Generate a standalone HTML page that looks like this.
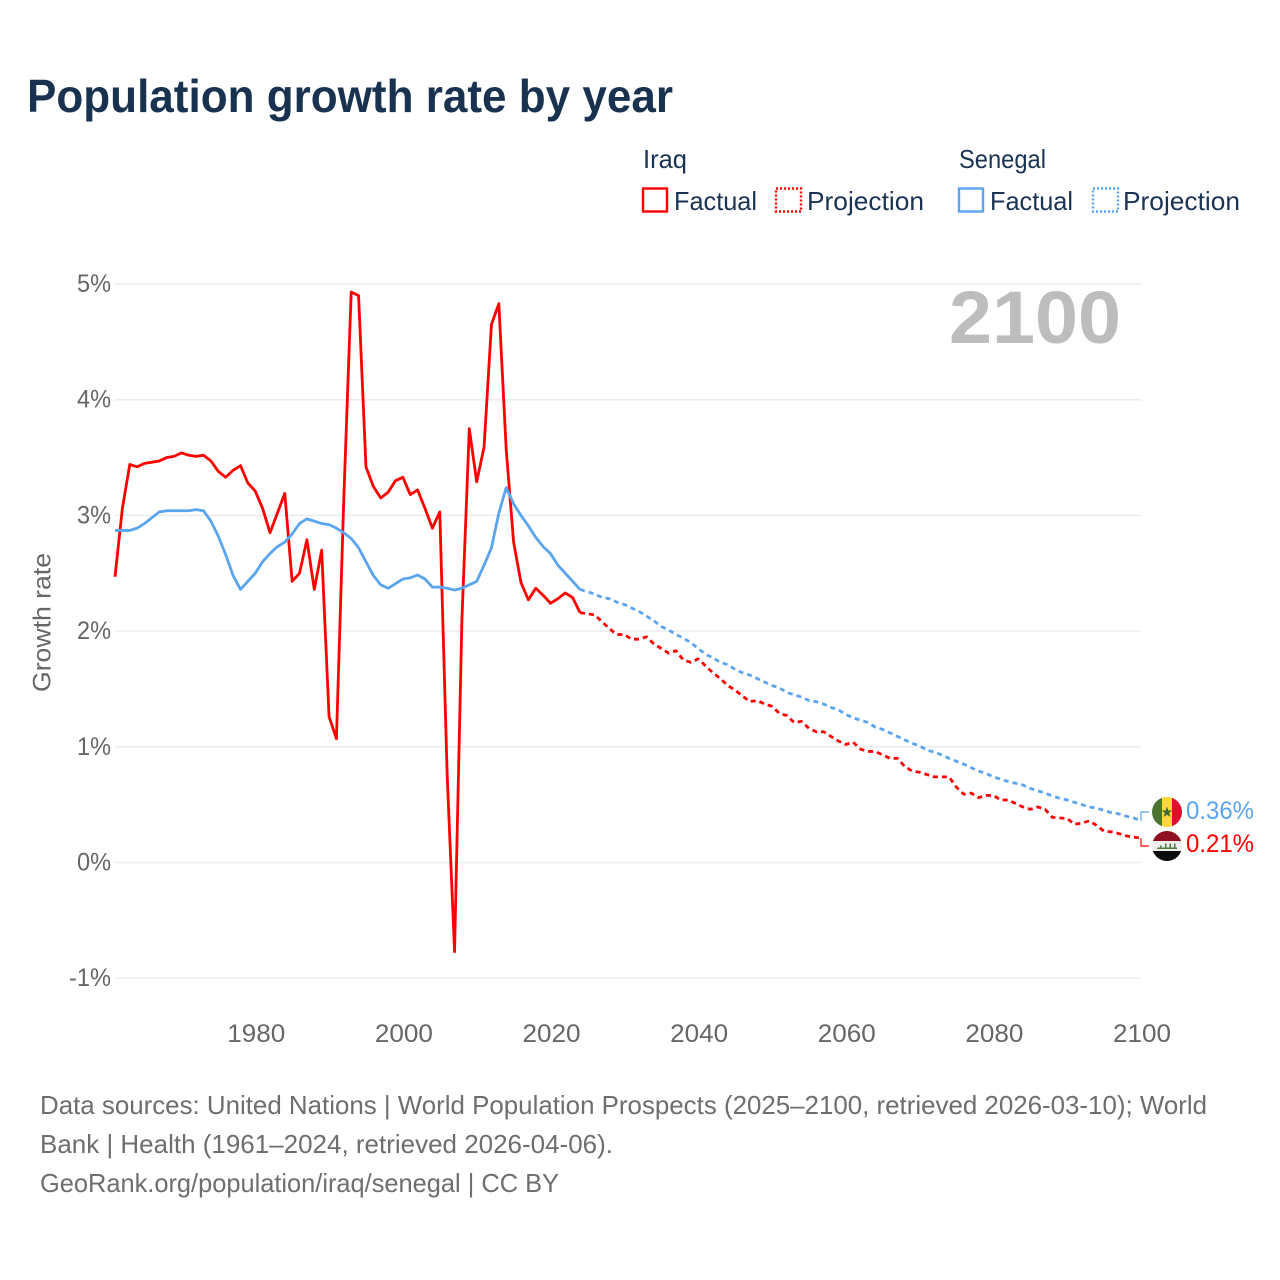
<!DOCTYPE html>
<html lang="en">
<head>
<meta charset="utf-8">
<title>Population growth rate by year</title>
<style>
html,body{margin:0;padding:0;background:#fff}
svg{display:block;font-family:"Liberation Sans",sans-serif}
</style>
</head>
<body>
<svg id="chart" xmlns="http://www.w3.org/2000/svg" width="1280" height="1280" viewBox="0 0 1280 1280">
  <text x="27" y="112" font-size="46" font-weight="700" fill="#18324f" textLength="646" lengthAdjust="spacingAndGlyphs">Population growth rate by year</text>

  <g font-size="26" fill="#1a3354">
    <text x="643" y="168" textLength="44" lengthAdjust="spacingAndGlyphs">Iraq</text>
    <text x="959" y="168" textLength="87" lengthAdjust="spacingAndGlyphs">Senegal</text>
    <g>
      <rect x="643" y="188.500" width="24" height="23" fill="none" stroke="#ff0000" stroke-width="2.400"/>
      <text x="674" y="210" textLength="83" lengthAdjust="spacingAndGlyphs">Factual</text>
    </g>
    <g>
      <rect x="776" y="188.500" width="25" height="23" fill="none" stroke="#ff0000" stroke-width="2.400" stroke-dasharray="2 2"/>
      <text x="807" y="210" textLength="117" lengthAdjust="spacingAndGlyphs">Projection</text>
    </g>
    <g>
      <rect x="959" y="188.500" width="24" height="23" fill="none" stroke="#5ba4ee" stroke-width="2.400"/>
      <text x="990" y="210" textLength="83" lengthAdjust="spacingAndGlyphs">Factual</text>
    </g>
    <g>
      <rect x="1093" y="188.500" width="25" height="23" fill="none" stroke="#5ba4ee" stroke-width="2.400" stroke-dasharray="2 2"/>
      <text x="1123" y="210" textLength="117" lengthAdjust="spacingAndGlyphs">Projection</text>
    </g>
  </g>

  <g id="grid"></g>
  <g id="yticks"></g>
  <g id="xticks"></g>

  <text transform="translate(50.500,622.500) rotate(-90)" text-anchor="middle" font-size="25" fill="#666" textLength="139" lengthAdjust="spacingAndGlyphs">Growth rate</text>

  <text x="949" y="343" font-size="74" font-weight="700" fill="#bdbdbd" textLength="172" lengthAdjust="spacingAndGlyphs">2100</text>

  <g id="series"></g>

  <defs>
    <clipPath id="clip-senegal"><circle cx="1167" cy="812" r="15"/></clipPath>
    <clipPath id="clip-iraq"><circle cx="1167" cy="846" r="15"/></clipPath>
  </defs>
  <g clip-path="url(#clip-senegal)">
    <rect x="1152" y="797" width="10" height="30" fill="#4a7332"/>
    <rect x="1162" y="797" width="10" height="30" fill="#fdd835"/>
    <rect x="1172" y="797" width="10" height="30" fill="#dc0f2f"/>
    <polygon points="1167,806.500 1168.400,810.500 1172.500,810.500 1169.200,813 1170.400,817 1167,814.600 1163.600,817 1164.800,813 1161.500,810.500 1165.600,810.500" fill="#3f6b2c"/>
  </g>
  <g clip-path="url(#clip-iraq)">
    <rect x="1152" y="831" width="30" height="10" fill="#8f1020"/>
    <rect x="1152" y="841" width="30" height="10" fill="#eeeeee"/>
    <rect x="1152" y="851" width="30" height="10" fill="#0c0c0c"/>
    <path d="M1157 849h20v-1.500h-1.500v-4h-1.500v4h-3v-4h-1.500v4h-3v-4h-1.500v4h-3.500v-2h-1.500v2h-2.500z" fill="#4f7a3a"/>
  </g>

  <text x="1186" y="819" font-size="25" fill="#5ba4ee" textLength="68" lengthAdjust="spacingAndGlyphs">0.36%</text>
  <text x="1186" y="852" font-size="25" fill="#ff0000" textLength="68" lengthAdjust="spacingAndGlyphs">0.21%</text>

  <g font-size="26" fill="#6e6e6e">
    <text x="40" y="1114" textLength="1167" lengthAdjust="spacingAndGlyphs">Data sources: United Nations | World Population Prospects (2025–2100, retrieved 2026-03-10); World</text>
    <text x="40" y="1153" textLength="573" lengthAdjust="spacingAndGlyphs">Bank | Health (1961–2024, retrieved 2026-04-06).</text>
    <text x="40" y="1192" textLength="519" lengthAdjust="spacingAndGlyphs">GeoRank.org/population/iraq/senegal | CC BY</text>
  </g>
</svg>

<script>
const firstYear = 1961;
const lastYear = 2100;
const yTickValues = [-1, 0, 1, 2, 3, 4, 5];
const yTickLabels = ["-1%", "0%", "1%", "2%", "3%", "4%", "5%"];
const xTickValues = [1980, 2000, 2020, 2040, 2060, 2080, 2100];
const xTickLabels = ["1980", "2000", "2020", "2040", "2060", "2080", "2100"];

// 1961-2024
const iraqFactual = [
  2.47,3.06,3.44,3.42,3.45,3.46,3.47,3.50,3.51,3.54,
  3.52,3.51,3.52,3.47,3.38,3.33,3.39,3.43,3.28,3.21,
  3.06,2.85,3.02,3.19,2.43,2.50,2.79,2.36,2.70,1.26,
  1.07,3.15,4.93,4.90,3.42,3.25,3.15,3.20,3.30,3.33,
  3.18,3.22,3.06,2.89,3.03,0.76,-0.77,2.10,3.75,3.29,
  3.59,4.65,4.83,3.57,2.77,2.42,2.27,2.37,2.31,2.24,
  2.28,2.33,2.29,2.16
];
// 2025-2100
const iraqProjection = [
  2.15,2.14,2.08,2.02,1.97,1.97,1.93,1.93,1.95,1.89,
  1.85,1.81,1.83,1.75,1.73,1.76,1.70,1.64,1.59,1.53,
  1.49,1.44,1.39,1.40,1.37,1.35,1.29,1.27,1.21,1.22,
  1.16,1.13,1.13,1.09,1.05,1.02,1.04,0.98,0.96,0.96,
  0.93,0.90,0.90,0.83,0.79,0.78,0.76,0.74,0.74,0.74,
  0.65,0.59,0.60,0.56,0.58,0.58,0.54,0.54,0.51,0.48,
  0.46,0.48,0.46,0.39,0.385,0.38,0.33,0.34,0.36,0.32,
  0.27,0.265,0.25,0.23,0.22,0.21
];
// 1961-2024
const senegalFactual = [
  2.87,2.87,2.87,2.89,2.93,2.98,3.03,3.04,3.04,3.04,
  3.04,3.05,3.04,2.95,2.82,2.66,2.48,2.36,2.43,2.50,
  2.60,2.67,2.73,2.77,2.84,2.93,2.97,2.95,2.93,2.92,
  2.89,2.85,2.80,2.72,2.60,2.48,2.40,2.37,2.41,2.45,
  2.46,2.485,2.45,2.38,2.38,2.37,2.355,2.37,2.40,2.43,
  2.57,2.72,3.02,3.24,3.10,3.00,2.91,2.81,2.73,2.67,
  2.57,2.50,2.43,2.36
];
// 2025-2100
const senegalProjection = [
  2.34,2.32,2.29,2.28,2.25,2.23,2.20,2.17,2.13,2.09,
  2.04,2.01,1.97,1.94,1.90,1.85,1.80,1.77,1.73,1.71,
  1.67,1.64,1.62,1.59,1.56,1.53,1.51,1.47,1.45,1.43,
  1.40,1.39,1.37,1.34,1.32,1.28,1.25,1.23,1.21,1.17,
  1.15,1.12,1.09,1.06,1.03,1.01,0.97,0.955,0.93,0.90,
  0.875,0.85,0.82,0.79,0.77,0.74,0.72,0.70,0.685,0.67,
  0.64,0.62,0.60,0.575,0.555,0.54,0.52,0.50,0.48,0.47,
  0.45,0.43,0.42,0.40,0.385,0.36
];

const SVG_NS = "http://www.w3.org/2000/svg";
const plotLeft = 115, plotRight = 1141;
const yZero = 862.5, yPerUnit = 115.7;

function xScale(year) {
  return plotLeft + (year - firstYear) * (plotRight - plotLeft) / (lastYear - firstYear);
}
function yScale(value) {
  return yZero - value * yPerUnit;
}
function make(tag, parent, attrs) {
  const el = document.createElementNS(SVG_NS, tag);
  for (const k in attrs) el.setAttribute(k, attrs[k]);
  parent.appendChild(el);
  return el;
}
function buildPoints(startYear, values) {
  return values.map(function (v, i) {
    return xScale(startYear + i).toFixed(2) + "," + yScale(v).toFixed(2);
  });
}

const gridGroup = document.getElementById("grid");
const yTickGroup = document.getElementById("yticks");
const xTickGroup = document.getElementById("xticks");
const seriesGroup = document.getElementById("series");

yTickValues.forEach(function (v, i) {
  const line = make("line", gridGroup, {
    x1: plotLeft, x2: plotRight, y1: yScale(v), y2: yScale(v),
    stroke: "#ececec", "stroke-width": 1.5
  });
  
  
  const label = make("text", yTickGroup, {
    x: 111, y: yScale(v) + 8, "text-anchor": "end", "font-size": 25, fill: "#666",
    textLength: yTickLabels[i].length === 2 ? 34 : 42, lengthAdjust: "spacingAndGlyphs"
  });
  label.textContent = yTickLabels[i];
  
  
});

xTickValues.forEach(function (y, i) {
  const label = make("text", xTickGroup, {
    x: xScale(y) + 1, y: 1042, "text-anchor": "middle", "font-size": 25, fill: "#666",
    textLength: 58, lengthAdjust: "spacingAndGlyphs"
  });
  label.textContent = xTickLabels[i];
  
  
});

function drawSeries(factual, projection, color, labelY) {
  const factualPts = buildPoints(firstYear, factual);
  const projStart = firstYear + factual.length - 1;
  const projPts = buildPoints(projStart, [factual[factual.length - 1]].concat(projection));

  const proj = make("polyline", seriesGroup, {
    points: projPts.join(" "), fill: "none", stroke: color, "stroke-width": 2.8,
    "stroke-dasharray": "5 4", "stroke-linejoin": "round"
  });
  
  

  const fact = make("polyline", seriesGroup, {
    points: factualPts.join(" "), fill: "none", stroke: color, "stroke-width": 2.8,
    "stroke-linejoin": "round"
  });
  
  

  const endY = yScale(projection[projection.length - 1]);
  const conn = make("polyline", seriesGroup, {
    points: plotRight + "," + endY + " " + plotRight + "," + labelY + " 1149," + labelY,
    fill: "none", stroke: color, "stroke-width": 1.2
  });
  
  
}

drawSeries(iraqFactual, iraqProjection, "#ff0000", 846);
drawSeries(senegalFactual, senegalProjection, "#5ba4ee", 812);
</script>
</body>
</html>
